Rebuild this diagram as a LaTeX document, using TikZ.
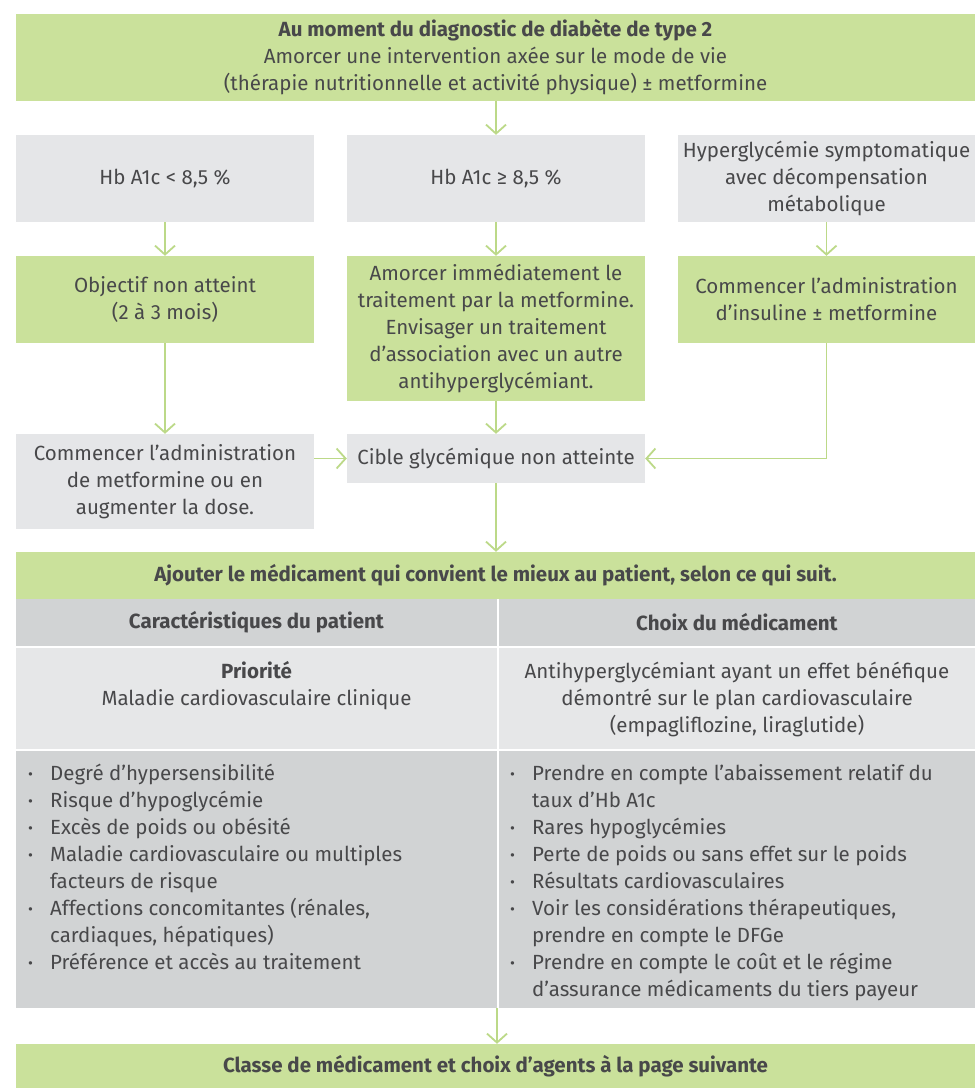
\documentclass[tikz,border=0pt]{standalone}
\usepackage{fontspec}
\setmainfont{Fira Sans}
\usetikzlibrary{arrows.meta}
\definecolor{boxgreen}{RGB}{202,225,155}
\definecolor{linegreen}{RGB}{188,217,136}
\definecolor{boxgrey}{RGB}{229,230,232}
\definecolor{cellgrey}{RGB}{209,211,212}
\definecolor{cellpale}{RGB}{230,231,232}
\definecolor{txtgrey}{RGB}{72,72,74}
\newcommand{\bul}{\makebox[22pt][l]{\raisebox{1pt}{\fontsize{15}{15}\selectfont •}}}
\newcommand{\hang}{\hspace*{22pt}}

\begin{document}
\begin{tikzpicture}[x=1pt,y=-1pt,
    font=\fontsize{20.5}{27}\selectfont, text=txtgrey,
    greybox/.style={rectangle, fill=boxgrey, align=center, inner sep=0pt},
    greenbox/.style={rectangle, fill=boxgreen, align=center, inner sep=0pt},
    cell/.style={rectangle, fill=cellgrey, align=center, inner sep=0pt},
    flow/.style={draw=linegreen, line width=1.8pt, -{Straight Barb[length=9pt,width=20pt]}}]
      \useasboundingbox (0,0) rectangle (975,1088);

      % flow part
      \node at(495.5,57) [greenbox, minimum width=959, minimum height=87] (diagnostic)
        {\textbf{Au moment du diagnostic de diabète de type 2}\\Amorcer une intervention axée sur le mode de vie\\(thérapie nutritionnelle et activité physique) ± metformine};

      \node at(165,178.5) [greybox, minimum width=298, minimum height=87] (hb-low) {Hb A1c < 8,5 \%};
      \node at(496,178.5) [greybox, minimum width=298, minimum height=87] (hb-high) {Hb A1c ≥ 8,5 \%};
      \node at(826.5,178.5) [greybox, minimum width=297, minimum height=87] (hyper)
        {Hyperglycémie symptomatique\\avec décompensation\\métabolique};

      \node at(165,299.5) [greenbox, minimum width=298, minimum height=87] (goal-missed)
        {Objectif non atteint\\(2 à 3 mois)};
      \node at(496,328.5) [greenbox, minimum width=298, minimum height=145] (metf-now)
        {Amorcer immédiatement le\\traitement par la metformine.\\Envisager un traitement\\d’association avec un autre\\antihyperglycémiant.};
      \node at(826.5,299.5) [greenbox, minimum width=297, minimum height=87] (insulin)
        {Commencer l’administration\\d’insuline ± metformine};

      \node at(165,481.5) [greybox, minimum width=298, minimum height=95] (metf-start)
        {Commencer l’administration\\de metformine ou en\\augmenter la dose.};
      \node at(496,458.5) [greybox, minimum width=298, minimum height=49] (target)
        {Cible glycémique non atteinte};

      \draw[flow] (diagnostic.south -| hb-high.north) -- (hb-high.north);
      \draw[flow] (hb-low) -- (goal-missed);
      \draw[flow] (hb-high) -- (metf-now);
      \draw[flow] (hyper) -- (insulin);
      \draw[flow] (goal-missed) -- (metf-start);
      \draw[flow] (metf-now) -- (target);
      \draw[flow] (metf-start.east |- target) -- (target);
      \draw[flow] (insulin) |- (target);

      % table part
      \node at(495.5,575.5) [greenbox, minimum width=959, minimum height=47] (add-drug)
        {\textbf{Ajouter le médicament qui convient le mieux au patient, selon ce qui suit.}};
      \draw[flow] (target) -- (target |- add-drug.north);

      \node at(256.5,622.5) [cell, minimum width=481, minimum height=47] (patient-head)
        {\textbf{Caractéristiques du patient}};
      \node at(737,622.5) [cell, minimum width=476, minimum height=47] (drug-head)
        {\textbf{Choix du médicament}};

      \fill[cellpale] (16,648) rectangle (497,749);
      \fill[cellpale] (499,648) rectangle (975,749);
      \fill[cellgrey] (16,751) rectangle (497,1008);
      \fill[cellgrey] (499,751) rectangle (975,1008);

      \node at(256.5,686) [align=center] (priority)
        {\textbf{Priorité}\\Maladie cardiovasculaire clinique};
      \node at(737,699) [align=center] (cv-benefit)
        {Antihyperglycémiant ayant un effet bénéfique\\démontré sur le plan cardiovasculaire\\(empagliflozine, liraglutide)};

      \node at(28,764) [anchor=north west, align=left, inner sep=0pt] (patient-list)
        {\bul Degré d’hypersensibilité\\
         \bul Risque d’hypoglycémie\\
         \bul Excès de poids ou obésité\\
         \bul Maladie cardiovasculaire ou multiples\\
         \hang facteurs de risque\\
         \bul Affections concomitantes (rénales,\\
         \hang cardiaques, hépatiques)\\
         \bul Préférence et accès au traitement};
      \node at(510,764) [anchor=north west, align=left, inner sep=0pt] (drug-list)
        {\bul Prendre en compte l’abaissement relatif du\\
         \hang taux d’Hb A1c\\
         \bul Rares hypoglycémies\\
         \bul Perte de poids ou sans effet sur le poids\\
         \bul Résultats cardiovasculaires\\
         \bul Voir les considérations thérapeutiques,\\
         \hang prendre en compte le DFGe\\
         \bul Prendre en compte le coût et le régime\\
         \hang d’assurance médicaments du tiers payeur};

      \node at(495.5,1066) [greenbox, minimum width=959, minimum height=44] (next-page)
        {\textbf{Classe de médicament et choix d’agents à la page suivante}};
      \coordinate (table-end) at (497,1008);
      \draw[flow] (table-end) -- (table-end |- next-page.north);
    \end{tikzpicture}
\end{document}
